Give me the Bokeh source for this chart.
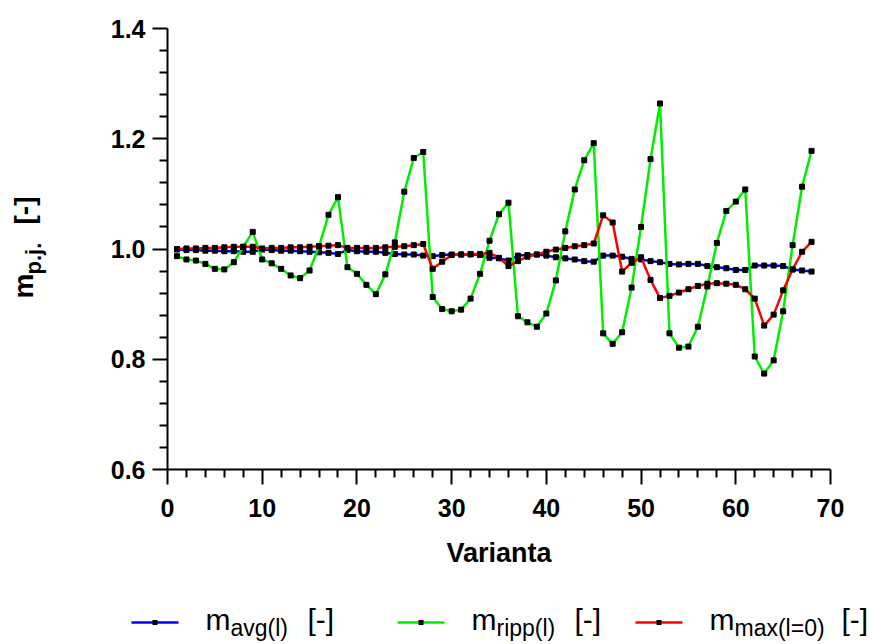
import math
from bokeh.plotting import figure
from bokeh.layouts import row, column
from bokeh.models import Range1d, FixedTicker, Label, Arrow, CustomJSTickFormatter
from bokeh.embed import file_html
from bokeh.resources import INLINE

variant = list(range(1, 69))

m_avg = [0.999, 0.998, 0.998, 0.997, 0.997, 0.996, 0.996, 0.995, 0.995,
         0.999, 0.998, 0.997, 0.997, 0.996, 0.995, 0.994, 0.993, 0.991,
         0.998, 0.996, 0.995, 0.995, 0.993, 0.991, 0.990, 0.990, 0.988,
         0.987, 0.989, 0.990, 0.990, 0.990, 0.989, 0.984, 0.983, 0.979,
         0.988, 0.989, 0.990, 0.988, 0.985, 0.983, 0.981, 0.978, 0.977,
         0.988, 0.988, 0.986, 0.982, 0.981, 0.978, 0.976, 0.973, 0.972,
         0.973, 0.973, 0.969, 0.967, 0.965, 0.962, 0.962, 0.970, 0.970,
         0.970, 0.969, 0.963, 0.961, 0.959]

m_ripp = [0.987, 0.981, 0.979, 0.973, 0.964, 0.963, 0.976, 1.004, 1.031,
          0.981, 0.974, 0.964, 0.952, 0.947, 0.961, 1.005, 1.062, 1.094,
          0.967, 0.955, 0.935, 0.918, 0.954, 1.012, 1.104, 1.165, 1.176,
          0.913, 0.891, 0.887, 0.890, 0.910, 0.955, 1.015, 1.063, 1.084,
          0.878, 0.867, 0.859, 0.883, 0.943, 1.032, 1.108, 1.161, 1.192,
          0.847, 0.828, 0.849, 0.930, 1.040, 1.163, 1.264, 0.847, 0.821,
          0.823, 0.859, 0.932, 1.011, 1.069, 1.086, 1.108, 0.805, 0.774,
          0.798, 0.887, 1.007, 1.113, 1.178]

m_max = [1.000, 1.001, 1.001, 1.002, 1.002, 1.003, 1.004, 1.004, 1.004,
         1.001, 1.002, 1.002, 1.003, 1.003, 1.004, 1.005, 1.006, 1.007,
         1.002, 1.002, 1.002, 1.002, 1.003, 1.004, 1.005, 1.007, 1.009,
         0.964, 0.977, 0.989, 0.990, 0.991, 0.991, 0.993, 0.984, 0.969,
         0.978, 0.986, 0.990, 0.995, 0.999, 1.002, 1.005, 1.007, 1.010,
         1.061, 1.048, 0.959, 0.975, 0.985, 0.944, 0.911, 0.915, 0.921,
         0.927, 0.933, 0.937, 0.938, 0.937, 0.935, 0.927, 0.910, 0.861,
         0.881, 0.925, 0.963, 0.995, 1.013]

x_ticks = [0, 10, 20, 30, 40, 50, 60, 70]
x_minor = [v for v in range(0, 71, 2) if v % 10]
y_ticks = [0.6, 0.8, 1.0, 1.2, 1.4]
y_minor = [round(0.6 + 0.04 * i, 2) for i in range(21) if i % 5]

series = [
    (m_avg, "#0000ff", "avg(l)"),
    (m_ripp, "#00ee00", "ripp(l)"),
    (m_max, "#ff0000", "max(l=0)"),
]

FONT = "Liberation Sans"
W, H = 872, 644
LEFT_W = 60
MAIN_H = 580
FRAME_TOP, FRAME_BOTTOM = 28, 469

# ---------------- main plot ----------------
p = figure(width=W - LEFT_W, height=MAIN_H, output_backend="svg",
           toolbar_location=None, title=None,
           x_range=Range1d(0, 70), y_range=Range1d(0.6, 1.4),
           min_border_left=167 - LEFT_W, min_border_right=W - 830,
           min_border_top=FRAME_TOP, min_border_bottom=MAIN_H - FRAME_BOTTOM)
p.outline_line_color = None
p.xgrid.visible = False
p.ygrid.visible = False

p.xaxis.ticker = FixedTicker(ticks=x_ticks, minor_ticks=x_minor)
p.yaxis.ticker = FixedTicker(ticks=y_ticks, minor_ticks=y_minor)
p.yaxis.formatter = CustomJSTickFormatter(code="return tick.toFixed(1)")

for ax in (p.xaxis[0], p.yaxis[0]):
    ax.axis_line_width = 2
    ax.axis_line_color = "black"
    ax.major_tick_line_width = 2
    ax.minor_tick_line_width = 2
    ax.major_tick_line_color = "black"
    ax.minor_tick_line_color = "black"
    ax.major_tick_in = 0
    ax.major_tick_out = 15
    ax.minor_tick_in = 0
    ax.minor_tick_out = 8
    ax.major_label_text_font = FONT
    ax.major_label_text_font_style = "bold"
    ax.major_label_text_font_size = "25px"
    ax.major_label_text_color = "black"
p.xaxis.major_label_standoff = 14
p.yaxis.major_label_standoff = 7

p.xaxis.axis_label = "Varianta"
p.xaxis.axis_label_text_font = FONT
p.xaxis.axis_label_text_font_style = "bold"
p.xaxis.axis_label_text_font_size = "27px"
p.xaxis.axis_label_text_color = "black"
p.xaxis.axis_label_standoff = 18

for vals, col, _ in series:
    p.line(variant, vals, line_color=col, line_width=2.5)
    p.scatter(variant, vals, marker="square", size=5, fill_color="black",
              line_color="black")


def blank(width, height):
    f = figure(width=width, height=height, output_backend="svg",
               toolbar_location=None, title=None,
               x_range=Range1d(0, width), y_range=Range1d(0, height),
               x_axis_location=None, y_axis_location=None, min_border=0)
    f.outline_line_color = None
    f.xgrid.visible = False
    f.ygrid.visible = False
    return f


MID = 0.35  # distance (in em) from alphabetic baseline to the text middle


def lab(f, x, y, text, size, style="normal", rotated=False):
    # (x, y) is the start of the text on its alphabetic baseline (screen units)
    if rotated:
        x = x - MID * size
    else:
        y = y + MID * size
    f.add_layout(Label(x=x, y=y, x_units="screen", y_units="screen", text=text,
                       text_font=FONT, text_font_size=f"{size}px",
                       text_font_style=style, text_color="black",
                       text_align="left", text_baseline="middle",
                       angle=math.pi / 2 if rotated else 0.0))


# ---------------- y axis label panel ----------------
# frame of this panel is aligned with the main frame (page y 28..469)
yl = blank(LEFT_W, MAIN_H)
lab(yl, 33, FRAME_BOTTOM - 298, "m", 28, "bold", rotated=True)
lab(yl, 41, FRAME_BOTTOM - 274, "p.j.", 22, "bold", rotated=True)
lab(yl, 34, FRAME_BOTTOM - 224, "[-]", 28, "bold", rotated=True)

# ---------------- legend panel ----------------
LEG_H = H - MAIN_H
lg = blank(W, LEG_H)
leg_line_x = [(131, 178), (397, 444), (635, 682)]
leg_m_x = [205, 471, 709]
leg_br_x = [307, 574, 841]
ly_line = H - 622
ly_base = H - 629
ly_sub = H - 636
for i, (vals, col, sub) in enumerate(series):
    x0, x1 = leg_line_x[i]
    lg.add_layout(Arrow(end=None, start=None, x_start=x0, y_start=ly_line,
                        x_end=x1, y_end=ly_line, start_units="screen",
                        end_units="screen", line_color=col, line_width=2.5))
    xc = (x0 + x1) / 2
    lg.add_layout(Arrow(end=None, start=None, x_start=xc - 2.5, y_start=ly_line,
                        x_end=xc + 2.5, y_end=ly_line, start_units="screen",
                        end_units="screen", line_color="black", line_width=5,
                        line_cap="butt"))
    lab(lg, leg_m_x[i], ly_base, "m", 30)
    lab(lg, leg_m_x[i] + 25, ly_sub, sub, 23)
    lab(lg, leg_br_x[i], ly_base, "[-]", 30)

layout = column(row(yl, p, spacing=0), lg, spacing=0)
open("out.html", "w").write(file_html(layout, INLINE))
